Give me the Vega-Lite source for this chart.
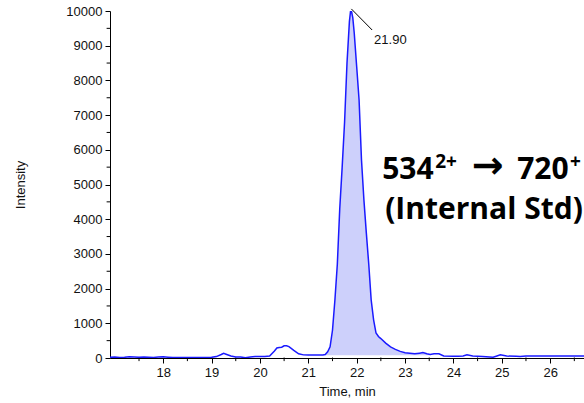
{
  "$schema": "https://vega.github.io/schema/vega-lite/v6.json",
  "width": 474,
  "height": 347,
  "autosize": "none",
  "padding": {"left": 110, "top": 11, "right": 0, "bottom": 45},
  "background": "white",
  "config": {
    "view": {"stroke": null},
    "axis": {
      "domainColor": "#000000",
      "tickColor": "#000000",
      "labelColor": "#111111",
      "titleColor": "#111111",
      "labelFont": "Liberation Sans",
      "titleFont": "Liberation Sans",
      "labelFontSize": 13,
      "titleFontSize": 13,
      "titleFontWeight": "normal",
      "grid": false,
      "tickSize": 5,
      "labelPadding": 3,
      "labelOverlap": false,
      "labelFlush": false
    }
  },
  "datasets": {
    "trace": [
      {"t": 16.9, "v": 20}, {"t": 17.0, "v": 30}, {"t": 17.1, "v": 15}, {"t": 17.2, "v": 20},
      {"t": 17.3, "v": 35}, {"t": 17.4, "v": 30}, {"t": 17.5, "v": 20}, {"t": 17.6, "v": 30},
      {"t": 17.7, "v": 25}, {"t": 17.8, "v": 15}, {"t": 17.9, "v": 30}, {"t": 18.0, "v": 35},
      {"t": 18.1, "v": 25}, {"t": 18.2, "v": 15}, {"t": 18.4, "v": 15}, {"t": 18.6, "v": 15},
      {"t": 18.8, "v": 15}, {"t": 19.0, "v": 20}, {"t": 19.1, "v": 40}, {"t": 19.2, "v": 100},
      {"t": 19.25, "v": 135}, {"t": 19.3, "v": 110}, {"t": 19.4, "v": 60}, {"t": 19.5, "v": 30},
      {"t": 19.6, "v": 30}, {"t": 19.7, "v": 5}, {"t": 19.8, "v": 30}, {"t": 19.9, "v": 40},
      {"t": 20.0, "v": 40}, {"t": 20.1, "v": 45}, {"t": 20.2, "v": 60}, {"t": 20.3, "v": 200},
      {"t": 20.35, "v": 290}, {"t": 20.4, "v": 300}, {"t": 20.45, "v": 310}, {"t": 20.5, "v": 350},
      {"t": 20.55, "v": 355}, {"t": 20.6, "v": 330}, {"t": 20.7, "v": 220}, {"t": 20.8, "v": 120},
      {"t": 20.9, "v": 90}, {"t": 21.0, "v": 85}, {"t": 21.1, "v": 85}, {"t": 21.2, "v": 85},
      {"t": 21.3, "v": 90}, {"t": 21.35, "v": 100}, {"t": 21.4, "v": 180}, {"t": 21.45, "v": 320},
      {"t": 21.5, "v": 800}, {"t": 21.55, "v": 1670}, {"t": 21.6, "v": 2700}, {"t": 21.65, "v": 4300},
      {"t": 21.7, "v": 5500}, {"t": 21.75, "v": 6800}, {"t": 21.8, "v": 8500}, {"t": 21.85, "v": 9700},
      {"t": 21.88, "v": 10080}, {"t": 21.92, "v": 9800}, {"t": 21.95, "v": 9360}, {"t": 22.0, "v": 8400},
      {"t": 22.05, "v": 7430}, {"t": 22.1, "v": 5700}, {"t": 22.15, "v": 4550}, {"t": 22.2, "v": 3600},
      {"t": 22.25, "v": 2700}, {"t": 22.3, "v": 1670}, {"t": 22.35, "v": 1100}, {"t": 22.4, "v": 720},
      {"t": 22.45, "v": 620}, {"t": 22.5, "v": 560}, {"t": 22.6, "v": 430}, {"t": 22.7, "v": 320},
      {"t": 22.8, "v": 250}, {"t": 22.9, "v": 190}, {"t": 23.0, "v": 150}, {"t": 23.1, "v": 140},
      {"t": 23.2, "v": 120}, {"t": 23.3, "v": 140}, {"t": 23.37, "v": 155}, {"t": 23.45, "v": 120},
      {"t": 23.52, "v": 100}, {"t": 23.6, "v": 125}, {"t": 23.7, "v": 120}, {"t": 23.8, "v": 60},
      {"t": 24.0, "v": 50}, {"t": 24.1, "v": 50}, {"t": 24.2, "v": 60}, {"t": 24.28, "v": 90},
      {"t": 24.4, "v": 60}, {"t": 24.6, "v": 45}, {"t": 24.82, "v": 25}, {"t": 24.9, "v": 60},
      {"t": 24.97, "v": 90}, {"t": 25.1, "v": 55}, {"t": 25.3, "v": 50}, {"t": 25.38, "v": 40},
      {"t": 25.5, "v": 55}, {"t": 25.8, "v": 55}, {"t": 26.0, "v": 58}, {"t": 26.2, "v": 55},
      {"t": 26.5, "v": 55}, {"t": 26.7, "v": 55}
    ],
    "minorX": [
      {"t": 17.5}, {"t": 18.5}, {"t": 19.5}, {"t": 20.5}, {"t": 21.5},
      {"t": 22.5}, {"t": 23.5}, {"t": 24.5}, {"t": 25.5}, {"t": 26.5}
    ],
    "minorY": [
      {"v": 500}, {"v": 1500}, {"v": 2500}, {"v": 3500}, {"v": 4500},
      {"v": 5500}, {"v": 6500}, {"v": 7500}, {"v": 8500}, {"v": 9500}
    ],
    "bigText": [
      {"t": 22.527, "v": 5158, "label": "534"},
      {"t": 25.318, "v": 5158, "label": "720"},
      {"t": 22.589, "v": 4006, "label": "(Internal Std)"}
    ],
    "supText": [
      {"t": 23.623, "v": 5476, "label": "2+"},
      {"t": 26.413, "v": 5476, "label": "+"}
    ],
    "arrowText": [
      {"t": 24.38, "v": 5504, "label": "→"}
    ],
    "peakLabel": [
      {"t": 22.36, "v": 9049, "label": "21.90", "t0": 21.89, "v0": 10060, "t1": 22.32, "v1": 9452}
    ]
  },
  "layer": [
    {
      "data": {"name": "trace"},
      "transform": [{"filter": "datum.t >= 21.35 && datum.t <= 23.52"}],
      "mark": {"type": "area", "color": "#cdd0fb", "clip": true},
      "encoding": {
        "x": {
          "field": "t", "type": "quantitative",
          "scale": {"domain": [16.9, 26.7], "nice": false, "zero": false},
          "axis": {"orient": "bottom", "title": "Time, min", "titlePadding": 6, "values": [18, 19, 20, 21, 22, 23, 24, 25, 26], "format": "d"}
        },
        "y": {
          "field": "v", "type": "quantitative",
          "scale": {"domain": [0, 10000], "nice": false},
          "axis": {"orient": "left", "title": "Intensity", "titlePadding": 38, "values": [0, 1000, 2000, 3000, 4000, 5000, 6000, 7000, 8000, 9000, 10000], "format": "d"}
        },
        "y2": {"datum": 80}
      }
    },
    {
      "mark": {"type": "rule", "color": "#000000", "strokeWidth": 1, "clip": false},
      "encoding": {
        "x": {"datum": 16.9103, "type": "quantitative", "axis": null},
        "y": {"datum": 14.4, "type": "quantitative", "axis": null},
        "y2": {"datum": 10000}
      }
    },
    {
      "mark": {"type": "rule", "color": "#000000", "strokeWidth": 1, "clip": false},
      "encoding": {
        "x": {"datum": 16.9103, "type": "quantitative", "axis": null},
        "x2": {"datum": 26.8},
        "y": {"datum": 14.4, "type": "quantitative", "axis": null}
      }
    },
    {
      "data": {"name": "minorX"},
      "mark": {"type": "rule", "color": "#000000", "strokeWidth": 1, "clip": false},
      "encoding": {
        "x": {"field": "t", "type": "quantitative", "axis": null},
        "y": {"datum": 14.4, "type": "quantitative", "axis": null},
        "y2": {"datum": -90}
      }
    },
    {
      "data": {"name": "minorY"},
      "mark": {"type": "rule", "color": "#000000", "strokeWidth": 1, "clip": false},
      "encoding": {
        "y": {"field": "v", "type": "quantitative", "axis": null},
        "x": {"datum": 16.9103, "type": "quantitative", "axis": null},
        "x2": {"datum": 16.83}
      }
    },
    {
      "data": {"name": "trace"},
      "mark": {"type": "line", "color": "#1a1aff", "strokeWidth": 1.5, "clip": true},
      "encoding": {
        "x": {"field": "t", "type": "quantitative", "axis": null},
        "y": {"field": "v", "type": "quantitative", "axis": null}
      }
    },
    {
      "mark": {"type": "rule", "color": "#ff0000", "strokeWidth": 1.2},
      "encoding": {
        "x": {"datum": 21.35, "type": "quantitative", "axis": null},
        "x2": {"datum": 23.52},
        "y": {"datum": 80, "type": "quantitative", "axis": null}
      }
    },
    {
      "data": {"name": "peakLabel"},
      "mark": {"type": "rule", "color": "#000000", "strokeWidth": 1},
      "encoding": {
        "x": {"field": "t0", "type": "quantitative", "axis": null},
        "x2": {"field": "t1"},
        "y": {"field": "v0", "type": "quantitative", "axis": null},
        "y2": {"field": "v1"}
      }
    },
    {
      "data": {"name": "peakLabel"},
      "mark": {"type": "text", "align": "left", "baseline": "alphabetic", "font": "Liberation Sans", "fontSize": 13, "color": "#111111"},
      "encoding": {
        "x": {"field": "t", "type": "quantitative", "axis": null},
        "y": {"field": "v", "type": "quantitative", "axis": null},
        "text": {"field": "label"}
      }
    },
    {
      "data": {"name": "bigText"},
      "mark": {"type": "text", "align": "left", "baseline": "alphabetic", "font": "Open Sans", "fontWeight": "bold", "fontSize": 30, "color": "#000000"},
      "encoding": {
        "x": {"field": "t", "type": "quantitative", "axis": null},
        "y": {"field": "v", "type": "quantitative", "axis": null},
        "text": {"field": "label"}
      }
    },
    {
      "data": {"name": "supText"},
      "mark": {"type": "text", "align": "left", "baseline": "alphabetic", "font": "Open Sans", "fontWeight": "bold", "fontSize": 19, "color": "#000000"},
      "encoding": {
        "x": {"field": "t", "type": "quantitative", "axis": null},
        "y": {"field": "v", "type": "quantitative", "axis": null},
        "text": {"field": "label"}
      }
    },
    {
      "data": {"name": "arrowText"},
      "mark": {"type": "text", "align": "left", "baseline": "middle", "font": "DejaVu Sans", "fontWeight": "bold", "fontSize": 38, "color": "#000000"},
      "encoding": {
        "x": {"field": "t", "type": "quantitative", "axis": null},
        "y": {"field": "v", "type": "quantitative", "axis": null},
        "text": {"field": "label"}
      }
    }
  ],
  "resolve": {"axis": {"x": "independent", "y": "independent"}}
}
